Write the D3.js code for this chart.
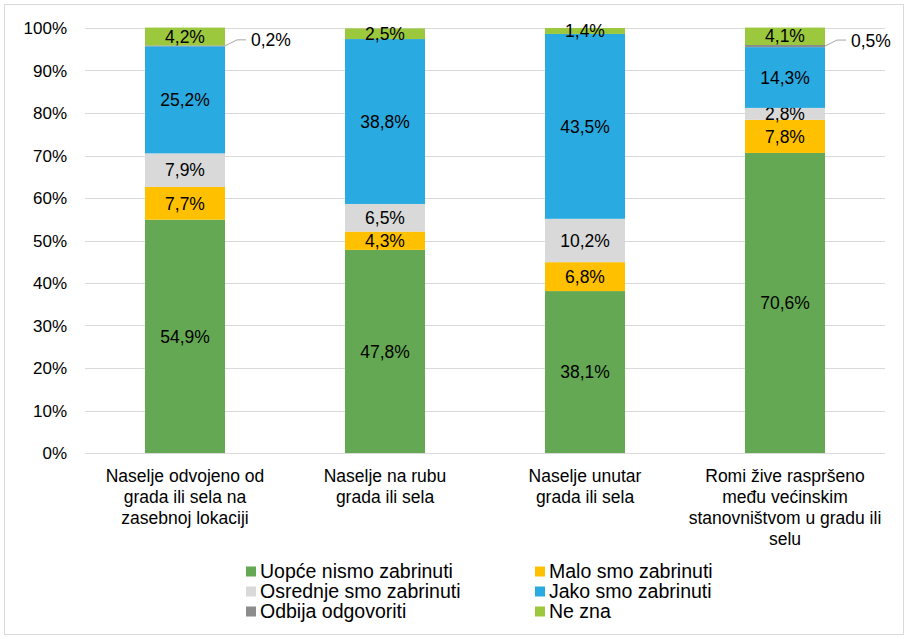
<!DOCTYPE html>
<html><head><meta charset="utf-8">
<script src="https://cdn.jsdelivr.net/npm/d3@7"></script>
<style>body{margin:0;background:#fff;}svg{font-family:"Liberation Sans",Arial,sans-serif;}</style>
</head><body><svg id="c" width="908" height="639"></svg>
<script>
const categories = [
  ["Naselje odvojeno od","grada ili sela na","zasebnoj lokaciji"],
  ["Naselje na rubu","grada ili sela"],
  ["Naselje unutar","grada ili sela"],
  ["Romi žive raspršeno","među većinskim","stanovništvom u gradu ili","selu"]
];
const seriesNames = ["Uopće nismo zabrinuti","Malo smo zabrinuti","Osrednje smo zabrinuti","Jako smo zabrinuti","Odbija odgovoriti","Ne zna"];
const seriesColors = ["#64A853","#FFC000","#D9D9D9","#29ABE2","#8C8C8C","#9BC83D"];
const uopce   = [54.9, 47.8, 38.1, 70.6];
const malo    = [7.7, 4.3, 6.8, 7.8];
const osrednje= [7.9, 6.5, 10.2, 2.8];
const jako    = [25.2, 38.8, 43.5, 14.3];
const odbija  = [0.2, 0, 0, 0.5];
const neZna   = [4.2, 2.5, 1.4, 4.1];
const yTicks = [0,10,20,30,40,50,60,70,80,90,100];

const series = [uopce, malo, osrednje, jako, odbija, neZna];
const svg = d3.select("#c");
svg.append("rect").attr("x",4.5).attr("y",4.5).attr("width",899).attr("height",630)
  .attr("fill","#fff").attr("stroke","#D9D9D9").attr("stroke-width",1);

const x = d3.scaleBand().domain(d3.range(categories.length)).range([85,885]).paddingInner(0.6).paddingOuter(0.3);
const y = d3.scaleLinear().domain([0,100]).range([453,28]);

const fmt = v => v.toFixed(1).replace(".",",") + "%";

// grid
svg.append("g").selectAll("line").data(yTicks).join("line")
  .attr("x1",85).attr("x2",885).attr("y1",d=>Math.round(y(d))+0.5).attr("y2",d=>Math.round(y(d))+0.5)
  .attr("stroke","#D9D9D9").attr("stroke-width",1);
svg.append("g").selectAll("text").data(yTicks).join("text")
  .attr("x",67).attr("y",d=>y(d)+6).attr("text-anchor","end").attr("font-size",17).attr("fill","#000")
  .text(d=>d+"%");

// stacks
categories.forEach((c,i)=>{
  let acc = 0;
  series.forEach((s,k)=>{
    const v = s[i];
    const y0 = y(acc), y1 = y(acc+v);
    if (v>0) svg.append("rect").attr("x",x(i)).attr("width",x.bandwidth())
      .attr("y",y1).attr("height",y0-y1).attr("fill",seriesColors[k]);
    const mid = (y0+y1)/2;
    if (k===4) {
      if (v>0) {
        const xr = x(i)+x.bandwidth();
        svg.append("path").attr("d",`M${xr},${mid} L${xr+12},${mid-6} L${xr+21},${mid-6}`)
          .attr("fill","none").attr("stroke","#A6A6A6").attr("stroke-width",1);
        svg.append("text").attr("x",xr+26).attr("y",mid+0.5).attr("font-size",17.5).text(fmt(v));
      }
    } else {
      svg.append("text").attr("x",x(i)+x.bandwidth()/2).attr("y",mid+6.2)
        .attr("text-anchor","middle").attr("font-size",17.5).attr("fill","#000").text(fmt(v));
    }
    acc += v;
  });
  const t = svg.append("text").attr("font-size",17.5).attr("text-anchor","middle");
  c.forEach((ln,j)=>t.append("tspan").attr("x",x(i)+x.bandwidth()/2).attr("y",482+j*21).text(ln));
});

// legend
const legX = [246,535], legY = [571.5,591.5,611.5];
seriesNames.forEach((n,k)=>{
  const col = k%2, row = Math.floor(k/2);
  svg.append("rect").attr("x",legX[col]).attr("y",legY[row]-5).attr("width",10).attr("height",10).attr("fill",seriesColors[k]);
  svg.append("text").attr("x",legX[col]+14).attr("y",legY[row]+6.5).attr("font-size",19.5).text(n);
});
</script></body></html>
